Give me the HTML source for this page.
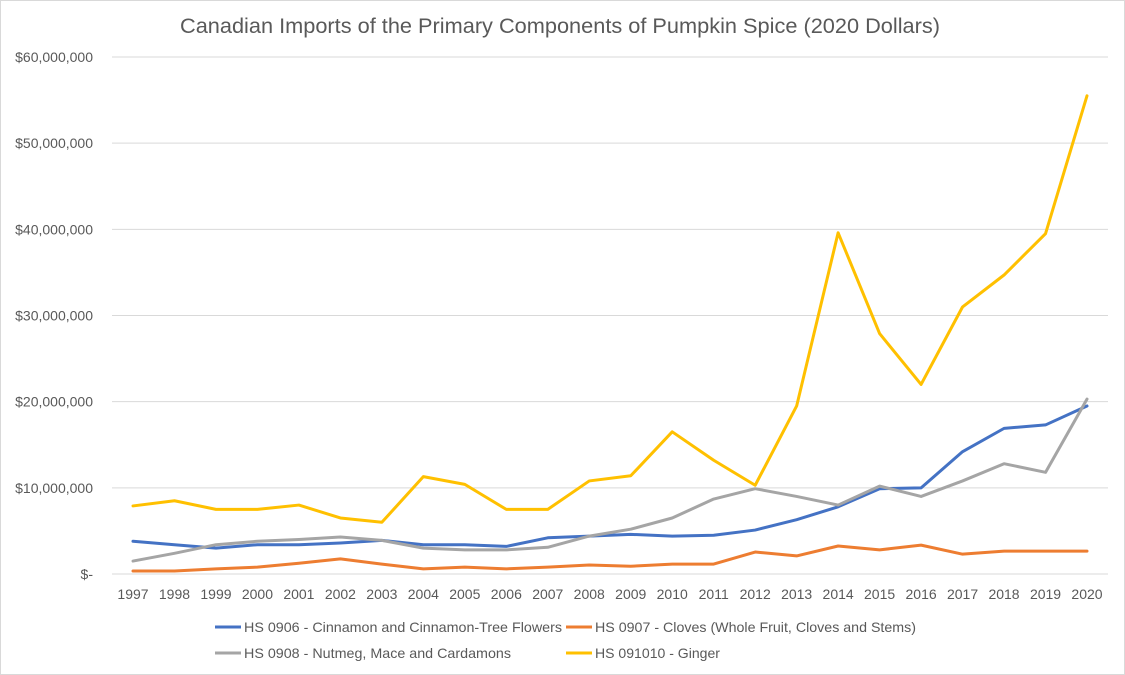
<!DOCTYPE html>
<html><head><meta charset="utf-8"><style>
body{margin:0;background:#fff;}
svg{display:block;font-family:"Liberation Sans",sans-serif;}
</style></head><body>
<svg id="chart" width="1125" height="675">
<rect x="0.5" y="0.5" width="1124" height="674" fill="#fff" stroke="#d9d9d9"/>
<text x="180" y="33" textLength="760" lengthAdjust="spacingAndGlyphs" font-size="21" fill="#595959">Canadian Imports of the Primary Components of Pumpkin Spice (2020 Dollars)</text>
<g id="grid"></g><g id="lines"></g><g id="legend"></g>
</svg>
<script>
const years=[1997,1998,1999,2000,2001,2002,2003,2004,2005,2006,2007,2008,2009,2010,2011,2012,2013,2014,2015,2016,2017,2018,2019,2020];
const cinnamon=[3.8,3.4,3.0,3.4,3.4,3.6,3.9,3.4,3.4,3.2,4.2,4.4,4.6,4.4,4.5,5.1,6.3,7.8,9.9,10.0,14.2,16.9,17.3,19.5];
const cloves=[0.35,0.35,0.6,0.8,1.25,1.75,1.15,0.6,0.8,0.6,0.8,1.05,0.9,1.15,1.15,2.55,2.1,3.25,2.8,3.35,2.3,2.65,2.65,2.65];
const nutmeg=[1.5,2.4,3.4,3.8,4.0,4.3,3.9,3.0,2.8,2.8,3.1,4.4,5.2,6.5,8.7,9.9,9.0,8.0,10.2,9.0,10.8,12.8,11.8,20.3];
const ginger=[7.9,8.5,7.5,7.5,8.0,6.5,6.0,11.3,10.4,7.5,7.5,10.8,11.4,16.5,13.2,10.3,19.5,39.6,27.9,22.0,31.0,34.7,39.5,55.5];
const yTicks=[0,10,20,30,40,50,60];
const yTickLabels=["$-","$10,000,000","$20,000,000","$30,000,000","$40,000,000","$50,000,000","$60,000,000"];
const seriesNames=["HS 0906 - Cinnamon and Cinnamon-Tree Flowers","HS 0907 - Cloves (Whole Fruit, Cloves and Stems)","HS 0908 - Nutmeg, Mace and Cardamons","HS 091010 - Ginger"];
const NS="http://www.w3.org/2000/svg";
const x=i=>133+i*(1087-133)/(years.length-1);
const y=v=>574-v*(574-57)/60;
function mk(t,a,p){const e=document.createElementNS(NS,t);for(const k in a)e.setAttribute(k,a[k]);p.appendChild(e);return e;}
const grid=document.getElementById('grid');
yTicks.forEach((t,i)=>{
  const l=mk('line',{x1:112,x2:1108,y1:y(t),y2:y(t),stroke:'#d9d9d9','stroke-width':1},grid);
  
  
  const tx=mk('text',{x:93,y:y(t)+5,'text-anchor':'end','font-size':14,fill:'#595959'},grid);
  tx.textContent=yTickLabels[i];
  
  
});
years.forEach((yr,i)=>{
  const tx=mk('text',{x:x(i),y:599,'text-anchor':'middle','font-size':14,fill:'#595959'},grid);
  tx.textContent=yr;
  
  
});
const series=[[cinnamon,'#4472c4'],[cloves,'#ed7d31'],[nutmeg,'#a5a5a5'],[ginger,'#ffc000']];
const lines=document.getElementById('lines');
series.forEach(([d,c],si)=>{
  const p=mk('polyline',{points:d.map((v,i)=>x(i)+','+y(v)).join(' '),fill:'none',stroke:c,'stroke-width':3,'stroke-linejoin':'round','stroke-linecap':'round'},lines);
  
  
});
const leg=document.getElementById('legend');
const lpos=[[215,627,318],[566,627,321],[215,653,267],[566,653,125]];
series.forEach(([d,c],si)=>{
  const [lx,ly,tl]=lpos[si];
  const g=mk('g',{},leg);
  
  
  mk('line',{x1:lx,x2:lx+26,y1:ly,y2:ly,stroke:c,'stroke-width':3},g);
  const t=mk('text',{x:lx+29,y:ly+5,'font-size':14,fill:'#595959',textLength:tl,lengthAdjust:'spacingAndGlyphs'},g);
  t.textContent=seriesNames[si];
});
</script>
</body></html>
